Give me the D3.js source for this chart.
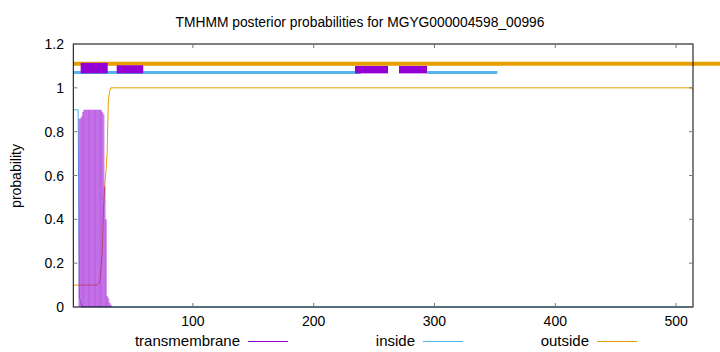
<!DOCTYPE html>
<html>
<head>
<meta charset="utf-8">
<script src="https://cdn.jsdelivr.net/npm/d3@7"></script>
<style>
  body { margin: 0; background: #fff; }
  text { font-family: "Liberation Sans", Arial, sans-serif; fill: #000; }
</style>
</head>
<body>
<svg id="chart" width="720" height="352"></svg>
<script>
// ─── data ─────────────────────────────────────────────────────────────────────
const chartTitle = 'TMHMM posterior probabilities for MGYG000004598_00996';
const seqLength  = 514;
const xTicks     = [100, 200, 300, 400, 500];
const yTicks     = [0, 0.2, 0.4, 0.6, 0.8, 1, 1.2];

// transmembrane posterior (impulses), residues with non-zero value
const tmPos  = [6, 7, 8, 9, 10, 11, 12, 13, 14, 15, 16, 17, 18, 19, 20, 21, 22, 23, 24, 25, 26, 27, 28, 29, 30, 31, 32];
const tmProb = [0.86, 0.86, 0.87, 0.89, 0.9, 0.9, 0.9, 0.9, 0.9, 0.9, 0.9, 0.9, 0.9, 0.9, 0.9, 0.9, 0.9, 0.9, 0.9, 0.89, 0.88, 0.55, 0.4, 0.05, 0.04, 0.02, 0.01];

// inside / outside posterior (lines), vertices where the curve changes
const insidePos   = [1, 5, 6, 7, 8, 514];
const insideProb  = [0.9, 0.9, 0.04, 0.03, 0, 0];
const outsidePos  = [1, 21, 22, 23, 24, 25, 26, 27, 28, 29, 30, 31, 32, 513, 514];
const outsideProb = [0.1, 0.1, 0.105, 0.12, 0.18, 0.25, 0.45, 0.55, 0.62, 0.7, 0.94, 0.98, 1, 1, 0.99];

// topology strip above the curves
const outsideBarStart = [1],        outsideBarEnd = [540];
const insideBarStart  = [1, 294],   insideBarEnd  = [239, 352];
const tmBoxStart = [7.1, 36.9, 234.2, 270.6];
const tmBoxEnd   = [29.5, 58.9, 261.5, 293.8];
const tmBoxTop   = [1.114, 1.103, 1.1, 1.1];

const legendNames = ['transmembrane', 'inside', 'outside'];

// ─── layout ───────────────────────────────────────────────────────────────────
const W = 720, H = 352;
const plot = { left: 73.3, right: 693, top: 44, bottom: 307 };
const colTM = '#9400d3', colIn = '#56b4e9', colOut = '#e69f00';

const svg = d3.select('#chart');
const x = d3.scaleLinear().domain([1, seqLength]).range([plot.left, plot.right]);
const y = d3.scaleLinear().domain([0, 1.2]).range([plot.bottom, plot.top]);

// title
svg.append('text').attr('x', 360).attr('y', 27).attr('text-anchor', 'middle')
  .attr('font-size', 13.8).text(chartTitle);

// y label
svg.append('text').attr('transform', 'translate(21,176) rotate(-90)')
  .attr('text-anchor', 'middle').attr('font-size', 14).text('probability');

// curves
const lineGen = d3.line().x(d => x(d[0])).y(d => y(d[1]));
svg.append('path').datum(insidePos.map((p, i) => [p, insideProb[i]]))
  .attr('d', lineGen).attr('fill', 'none').attr('stroke', colIn).attr('stroke-width', 1);
svg.append('path').datum(outsidePos.map((p, i) => [p, outsideProb[i]]))
  .attr('d', lineGen).attr('fill', 'none').attr('stroke', colOut).attr('stroke-width', 1);

svg.append('g').selectAll('line').data(tmPos.map((p, i) => [p, tmProb[i]])).enter()
  .append('line')
  .attr('x1', d => x(d[0])).attr('x2', d => x(d[0]))
  .attr('y1', y(0)).attr('y2', d => y(d[1]))
  .attr('stroke', colTM).attr('stroke-width', 2).attr('stroke-opacity', 0.42);

// topology strip
svg.append('g').selectAll('line').data(outsideBarStart.map((s, i) => [s, outsideBarEnd[i]])).enter()
  .append('line').attr('x1', d => x(d[0])).attr('x2', d => x(d[1]))
  .attr('y1', y(1.11)).attr('y2', y(1.11))
  .attr('stroke', colOut).attr('stroke-width', 4);
svg.append('g').selectAll('line').data(insideBarStart.map((s, i) => [s, insideBarEnd[i]])).enter()
  .append('line').attr('x1', d => x(d[0])).attr('x2', d => x(d[1]))
  .attr('y1', y(1.07)).attr('y2', y(1.07))
  .attr('stroke', colIn).attr('stroke-width', 3);
svg.append('g').selectAll('rect').data(tmBoxStart.map((s, i) => [s, tmBoxEnd[i], tmBoxTop[i]])).enter()
  .append('rect')
  .attr('x', d => x(d[0])).attr('width', d => x(d[1]) - x(d[0]))
  .attr('y', d => y(d[2])).attr('height', d => y(1.066) - y(d[2]))
  .attr('fill', colTM);

// border
svg.append('rect').attr('x', plot.left).attr('y', plot.top)
  .attr('width', plot.right - plot.left).attr('height', plot.bottom - plot.top)
  .attr('fill', 'none').attr('stroke', '#000').attr('stroke-width', 1);

// ticks (inward, mirrored) and labels
const tickCol = '#777', tl = 4;
const gt = svg.append('g').attr('stroke', tickCol).attr('stroke-width', 1);
xTicks.forEach(t => {
  gt.append('line').attr('x1', x(t)).attr('x2', x(t)).attr('y1', plot.bottom).attr('y2', plot.bottom - tl);
  gt.append('line').attr('x1', x(t)).attr('x2', x(t)).attr('y1', plot.top).attr('y2', plot.top + tl);
});
yTicks.forEach(t => {
  gt.append('line').attr('x1', plot.left).attr('x2', plot.left + tl).attr('y1', y(t)).attr('y2', y(t));
  gt.append('line').attr('x1', plot.right).attr('x2', plot.right - tl).attr('y1', y(t)).attr('y2', y(t));
});
svg.append('g').selectAll('text').data(xTicks).enter().append('text')
  .attr('x', d => x(d)).attr('y', 326).attr('text-anchor', 'middle').attr('font-size', 14)
  .text(d => d);
svg.append('g').selectAll('text').data(yTicks).enter().append('text')
  .attr('x', 64).attr('y', d => y(d) + 5).attr('text-anchor', 'end').attr('font-size', 14)
  .text(d => d3.format('~g')(d));

// legend
const legTextEnd = [240, 415, 589];
const legCols = [colTM, colIn, colOut];
legendNames.forEach((n, i) => {
  svg.append('text').attr('x', legTextEnd[i]).attr('y', 346).attr('text-anchor', 'end')
    .attr('font-size', 15).text(n);
  svg.append('line').attr('x1', legTextEnd[i] + 8).attr('x2', legTextEnd[i] + 48)
    .attr('y1', 341.5).attr('y2', 341.5).attr('stroke', legCols[i]).attr('stroke-width', 1);
});
</script>
</body>
</html>
